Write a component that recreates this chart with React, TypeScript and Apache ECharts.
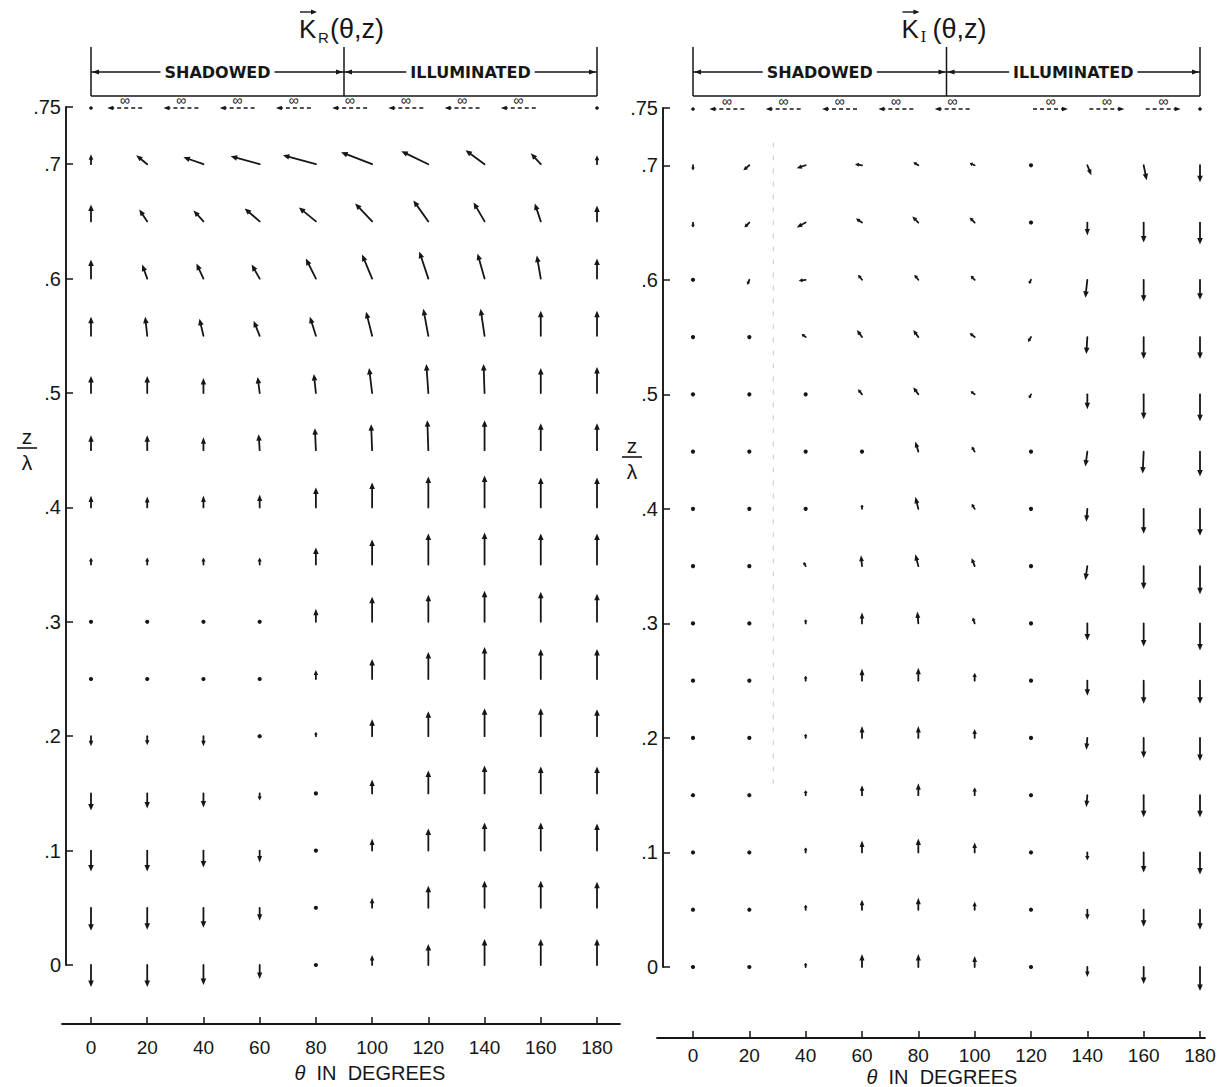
import React, { useEffect, useRef } from "react";
import * as echarts from "echarts";

// Grid of sample points: polar angle θ (degrees) and height z/λ
const THETA_DEG = [0, 20, 40, 60, 80, 100, 120, 140, 160, 180];
const Z_OVER_LAMBDA = [0.7, 0.65, 0.6, 0.55, 0.5, 0.45, 0.4, 0.35, 0.3, 0.25, 0.2, 0.15, 0.1, 0.05, 0];
const Z_INFINITE = 0.75;
const Z_TICKS = [0, 0.1, 0.2, 0.3, 0.4, 0.5, 0.6, 0.7, 0.75];

// K_R(θ,z): θ-component (positive toward larger θ), one row per z/λ
const KR_THETA = [
  [0, -11, -20, -29, -33, -31, -27, -19, -10, 0],
  [0, -8, -10, -15, -17, -17, -15, -11, -6, 0],
  [0, -5, -7, -8, -10, -10, -9, -7, -4, 0],
  [0, -2, -4, -6, -6, -6, -5, -4, 0, 0],
  [0, 0, 0, -2, -2, -3, -2, -1, 0, 0],
  [0, 0, 0, -1, -1, -1, -1, 0, 0, 0],
  [0, 0, 0, 0, 0, 0, 0, 0, 0, 0],
  [0, 0, 0, 0, 0, 0, 0, 0, 0, 0],
  [0, 0, 0, 0, 0, 0, 0, 0, 0, 0],
  [0, 1, 1, 0, 0, 0, 0, 0, 0, 0],
  [0, 0, 0, 0, 0, 0, 0, 0, 0, 0],
  [0, 0, 0, 0, 0, 0, 0, 0, 0, 0],
  [0, 0, 0, 0, 0, 0, 0, 0, 0, 0],
  [0, 0, 0, 0, 0, 0, 0, 0, 0, 0],
  [0, 0, 0, 0, 0, 0, 0, 0, 0, 0],
];

// K_R(θ,z): z-component (positive upward)
const KR_Z = [
  [10, 9, 7, 8, 9, 12, 13, 14, 11, 9],
  [17, 12, 11, 13, 14, 18, 21, 19, 18, 16],
  [19, 14, 15, 14, 20, 24, 27, 25, 23, 20],
  [19, 19, 17, 15, 19, 24, 27, 27, 25, 25],
  [17, 17, 15, 16, 19, 25, 29, 29, 25, 26],
  [15, 15, 13, 16, 22, 26, 30, 30, 27, 27],
  [12, 11, 12, 13, 20, 25, 31, 32, 30, 30],
  [7, 7, 7, 7, 17, 25, 31, 32, 31, 31],
  [2, 2, 2, 3, 13, 25, 27, 31, 30, 28],
  [-3, -3, -2, 0, 9, 20, 27, 32, 30, 30],
  [-10, -9, -10, -3, 4, 17, 25, 28, 28, 27],
  [-17, -15, -14, -7, 0, 14, 23, 28, 27, 27],
  [-21, -21, -17, -12, 0, 12, 22, 28, 28, 27],
  [-23, -22, -20, -13, 0, 10, 22, 27, 27, 26],
  [-22, -22, -20, -14, 0, 10, 21, 26, 26, 26],
];

// K_I(θ,z): θ-component
const KI_THETA = [
  [0, -6, -9, -7, -5, -5, 0, 4, 3, 0],
  [0, -5, -9, -6, -6, -5, -2, 0, 0, 0],
  [0, -2, -7, -4, -4, -4, -2, -2, 0, 0],
  [0, -1, -4, -5, -5, -5, -3, -1, 0, 0],
  [0, 0, -1, -4, -5, -4, -2, 0, 0, 0],
  [0, 0, 0, -1, -3, -3, -1, -2, -1, 0],
  [0, 0, 0, 0, -3, -3, -1, -1, 0, 0],
  [0, 0, -2, -1, -3, -3, 0, -2, 0, 0],
  [0, 0, 0, 0, -1, -2, -1, 0, 0, 0],
  [0, 0, 0, 0, 0, 0, 0, 0, 0, 0],
  [0, 0, 0, 0, 0, 0, 0, -1, 0, 0],
  [0, 0, 0, 0, 0, 0, 0, -1, 0, 0],
  [0, 0, 0, 0, 0, 0, 0, 0, 0, 0],
  [0, 0, 0, 0, 0, 0, 0, 0, 0, 0],
  [0, 0, 0, 0, 0, 0, 0, 0, 0, 0],
];

// K_I(θ,z): z-component
const KI_Z = [
  [-5, -5, -3, 1, 3, 2, 0, -10, -15, -17],
  [-5, -5, -5, 4, 6, 5, -3, -13, -20, -22],
  [-3, -5, -1, 5, 5, 4, -4, -18, -22, -20],
  [0, -3, 3, 7, 7, 4, -5, -17, -22, -22],
  [0, 0, 2, 5, 7, 3, -4, -15, -25, -27],
  [0, 0, 0, 3, 10, 5, -3, -15, -22, -25],
  [0, 0, 0, 4, 12, 5, -3, -13, -25, -27],
  [0, 0, 4, 11, 12, 8, 0, -14, -23, -28],
  [0, 0, 4, 11, 12, 6, -3, -17, -23, -27],
  [0, 0, 5, 12, 13, 8, 0, -15, -23, -23],
  [0, 0, 4, 12, 12, 9, 3, -12, -20, -23],
  [0, 0, 5, 10, 12, 8, 0, -12, -22, -22],
  [0, 0, 5, 12, 14, 10, 0, -8, -20, -22],
  [0, 0, 5, 10, 12, 8, 0, -10, -17, -20],
  [0, 0, 4, 13, 13, 11, 0, -10, -17, -24],
];

// Top row (z/λ = .75): direction of the unbounded ("∞") vectors, -1 toward smaller θ, +1 toward larger θ, 0 none
const KR_INFINITE = [0, -1, -1, -1, -1, -1, -1, -1, -1, 0];
const KI_INFINITE = [0, -1, -1, -1, -1, -1, 1, 1, 1, 0];

// Faint vertical guide in the K_I panel
const KI_GUIDE = [
  [28.5, 0.72],
  [28.5, 0.16],
];

const INK = "#161616";
const SANS = "Liberation Sans";
const ARROW_PX = 1; // pixels per unit of field component

// Panel layout (pixels)
const LEFT_PANEL = { axisX: 66, x0: 91, x180: 597, right: 620, baseLeft: 62, baseRight: 620, top: 107, bottom: 965, baseY: 1024 };
const RIGHT_PANEL = { axisX: 663, x0: 693, x180: 1200, right: 1212, baseLeft: 657, baseRight: 1205, top: 108, bottom: 967, baseY: 1038 };

type Panel = typeof LEFT_PANEL;

const thetaAt = (p: Panel, px: number) => ((px - p.x0) / (p.x180 - p.x0)) * 180;

const fieldData = (u: number[][], v: number[][]) =>
  Z_OVER_LAMBDA.flatMap((z, r) => THETA_DEG.map((t, c) => [t, z, u[r][c], v[r][c]]));

const infiniteData = (dirs: number[]) => THETA_DEG.map((t, c) => [t, Z_INFINITE, dirs[c]]);

const zLabel = (v: number) => {
  const r = Math.round(v * 100) / 100;
  return r === 0 ? "0" : String(r).replace(/^0/, "");
};

const renderVector = (_params: any, api: any) => {
  const p = api.coord([api.value(0), api.value(1)]);
  const u = api.value(2) * ARROW_PX;
  const v = api.value(3) * ARROW_PX;
  const len = Math.hypot(u, v);
  if (len < 4) {
    return { type: "circle", shape: { cx: p[0], cy: p[1], r: 2.1 }, style: { fill: INK } };
  }
  const ex = p[0] + u;
  const ey = p[1] - v;
  const ux = u / len;
  const uy = -v / len;
  const hl = Math.min(6.5, len * 0.55);
  const hw = Math.min(2.8, 1.5 + len * 0.08);
  const bx = ex - ux * hl;
  const by = ey - uy * hl;
  return {
    type: "group",
    children: [
      {
        type: "line",
        shape: { x1: p[0], y1: p[1], x2: bx + ux, y2: by + uy },
        style: { stroke: INK, lineWidth: 1.8, lineCap: "round" },
      },
      {
        type: "polygon",
        shape: { points: [[ex, ey], [bx - uy * hw, by + ux * hw], [bx + uy * hw, by - ux * hw]] },
        style: { fill: INK },
      },
    ],
  };
};

const renderInfinite = (_params: any, api: any) => {
  const p = api.coord([api.value(0), api.value(1)]);
  const dir = api.value(2);
  if (dir === 0) {
    return { type: "circle", shape: { cx: p[0], cy: p[1] + 1, r: 1.8 }, style: { fill: INK } };
  }
  const x1 = p[0] + (dir < 0 ? -5 : 2);
  const x2 = x1 + dir * 35;
  const y = p[1] + 1;
  return {
    type: "group",
    children: [
      {
        type: "line",
        shape: { x1, y1: y, x2: x2 - dir * 4, y2: y },
        style: { stroke: INK, lineWidth: 1.3, lineDash: [4, 3] },
      },
      {
        type: "polygon",
        shape: { points: [[x2, y], [x2 - dir * 6, y - 2.3], [x2 - dir * 6, y + 2.3]] },
        style: { fill: INK },
      },
      {
        type: "text",
        x: (x1 + x2) / 2,
        y: y - 1,
        style: {
          text: "∞",
          fill: INK,
          fontSize: 14,
          fontFamily: SANS,
          align: "center",
          verticalAlign: "bottom",
        },
      },
    ],
  };
};

const fieldAxes = (p: Panel, grid: number) => ({
  x: {
    gridIndex: grid,
    type: "value",
    min: thetaAt(p, p.axisX),
    max: thetaAt(p, p.right),
    show: false,
    axisLine: { onZero: false },
  },
  y: {
    gridIndex: grid,
    type: "value",
    min: 0,
    max: 0.75,
    axisLine: { show: true, onZero: false, lineStyle: { color: INK, width: 1.9 } },
    axisTick: { show: true, inside: true, length: 7, customValues: Z_TICKS, lineStyle: { color: INK, width: 1.5 } },
    axisLabel: {
      customValues: Z_TICKS,
      formatter: zLabel,
      color: INK,
      fontFamily: SANS,
      fontSize: 20,
      margin: 5,
    },
    splitLine: { show: false },
  },
});

const baseAxes = (p: Panel, grid: number, labelMargin: number) => ({
  x: {
    gridIndex: grid,
    type: "value",
    position: "bottom",
    min: thetaAt(p, p.baseLeft),
    max: thetaAt(p, p.baseRight),
    axisLine: { show: true, onZero: false, lineStyle: { color: INK, width: 1.8 } },
    axisTick: { show: true, inside: true, length: 7, customValues: THETA_DEG, lineStyle: { color: INK, width: 1.5 } },
    axisLabel: {
      customValues: THETA_DEG,
      color: INK,
      fontFamily: SANS,
      fontSize: 19,
      margin: labelMargin,
    },
    splitLine: { show: false },
  },
  y: { gridIndex: grid, type: "value", min: 0, max: 1, show: false },
});

const arrowHead = (x: number, y: number, dir: number, len = 7, half = 2.6) => ({
  type: "polygon",
  shape: { points: [[x, y], [x - dir * len, y - half], [x - dir * len, y + half]] },
  style: { fill: INK },
  silent: true,
});

const seg = (x1: number, y1: number, x2: number, y2: number, w = 1.5) => ({
  type: "line",
  shape: { x1, y1, x2, y2 },
  style: { stroke: INK, lineWidth: w },
  silent: true,
});

const txt = (x: number, y: number, text: string, extra: any = {}) => ({
  type: "text",
  x,
  y,
  silent: true,
  style: {
    text,
    fill: INK,
    fontFamily: SANS,
    fontSize: 20,
    textAlign: "center",
    textVerticalAlign: "middle",
    ...extra,
  },
});

// Title, shadowed/illuminated bracket and axis captions for one panel
const panelDecor = (x0: number, x90: number, x180: number, sub: string, subFont: string, zx: number, zy: number, captionX: number, captionY: number) => {
  const top = 47;
  const mid = 72;
  const bot = 96;
  const cx = x90 + 2;
  const labelStyle = { fontFamily: "DejaVu Sans", fontWeight: "bold", fontSize: 16, backgroundColor: "#fff", padding: [0, 4] };
  return [
    // title K(θ,z) with vector arrow
    txt(cx - 47, 29, "K", { textAlign: "left", fontSize: 26 }),
    seg(cx - 46, 12, cx - 33, 12, 1.4),
    arrowHead(cx - 29, 12, 1, 6, 2.4),
    txt(cx - 28, 37, sub, { textAlign: "left", fontSize: 15, fontFamily: subFont }),
    txt(cx - 16, 29, "(θ,z)", { textAlign: "left", fontSize: 27 }),
    // bracket
    seg(x0, top, x0, bot),
    seg(x180, top, x180, bot),
    seg(x90, top, x90, bot),
    seg(x0, bot, x180, bot),
    seg(x0, mid, x180, mid, 1.3),
    arrowHead(x0 + 1, mid, -1),
    arrowHead(x90 - 1, mid, 1),
    arrowHead(x90 + 1, mid, -1),
    arrowHead(x180 - 1, mid, 1),
    txt((x0 + x90) / 2, mid, "SHADOWED", labelStyle),
    txt((x90 + x180) / 2, mid, "ILLUMINATED", labelStyle),
    // z/λ caption
    txt(zx, zy - 12, "z", { fontSize: 21 }),
    seg(zx - 10, zy, zx + 10, zy, 1.6),
    txt(zx, zy + 14, "λ", { fontSize: 21 }),
    // θ caption
    txt(captionX, captionY, "{i|θ}  IN  DEGREES", {
      fontSize: 20,
      rich: { i: { fontStyle: "italic", fontSize: 20, fontFamily: SANS, fill: INK } },
    }),
  ];
};

export default function App() {
  const ref = useRef<HTMLDivElement | null>(null);

  useEffect(() => {
    if (!ref.current) return;
    const chart = echarts.init(ref.current, null, { renderer: "svg" });

    const lf = fieldAxes(LEFT_PANEL, 0);
    const lb = baseAxes(LEFT_PANEL, 1, 14);
    const rf = fieldAxes(RIGHT_PANEL, 2);
    const rb = baseAxes(RIGHT_PANEL, 3, 8);

    const gridOf = (p: Panel, base: boolean) =>
      base
        ? { left: p.baseLeft, top: p.baseY - 20, width: p.baseRight - p.baseLeft, height: 20 }
        : { left: p.axisX, top: p.top, width: p.right - p.axisX, height: p.bottom - p.top };

    const vectorSeries = (name: string, axis: number, data: any[], renderItem: any) => ({
      name,
      type: "custom",
      xAxisIndex: axis,
      yAxisIndex: axis,
      clip: false,
      silent: true,
      encode: { x: 0, y: 1 },
      itemStyle: { color: INK },
      data,
      renderItem,
    });

    chart.setOption({
      animation: false,
      backgroundColor: "#ffffff",
      color: [INK],
      grid: [gridOf(LEFT_PANEL, false), gridOf(LEFT_PANEL, true), gridOf(RIGHT_PANEL, false), gridOf(RIGHT_PANEL, true)],
      xAxis: [lf.x, lb.x, rf.x, rb.x],
      yAxis: [lf.y, lb.y, rf.y, rb.y],
      series: [
        {
          name: "K_I guide",
          type: "line",
          xAxisIndex: 2,
          yAxisIndex: 2,
          data: KI_GUIDE,
          symbol: "none",
          silent: true,
          lineStyle: { color: "#c9c9c9", width: 1, type: [5, 8] },
        },
        vectorSeries("K_R", 0, fieldData(KR_THETA, KR_Z), renderVector),
        vectorSeries("K_R infinite", 0, infiniteData(KR_INFINITE), renderInfinite),
        vectorSeries("K_I", 2, fieldData(KI_THETA, KI_Z), renderVector),
        vectorSeries("K_I infinite", 2, infiniteData(KI_INFINITE), renderInfinite),
      ],
    });

    const px = (grid: number, theta: number) => chart.convertToPixel({ gridIndex: grid }, [theta, 0])[0];
    const graphic = [
      ...panelDecor(px(0, 0), px(0, 90), px(0, 180), "R", SANS, 27, 448, 370, 1073),
      ...panelDecor(px(2, 0), px(2, 90), px(2, 180), "I", "DejaVu Serif", 632, 457, 942, 1077),
    ];
    chart.setOption({ graphic });

    return () => chart.dispose();
  }, []);

  return (
    <div
      ref={ref}
      style={{ position: "absolute", left: 0, top: 0, width: 1220, height: 1087, background: "#fff" }}
    />
  );
}
